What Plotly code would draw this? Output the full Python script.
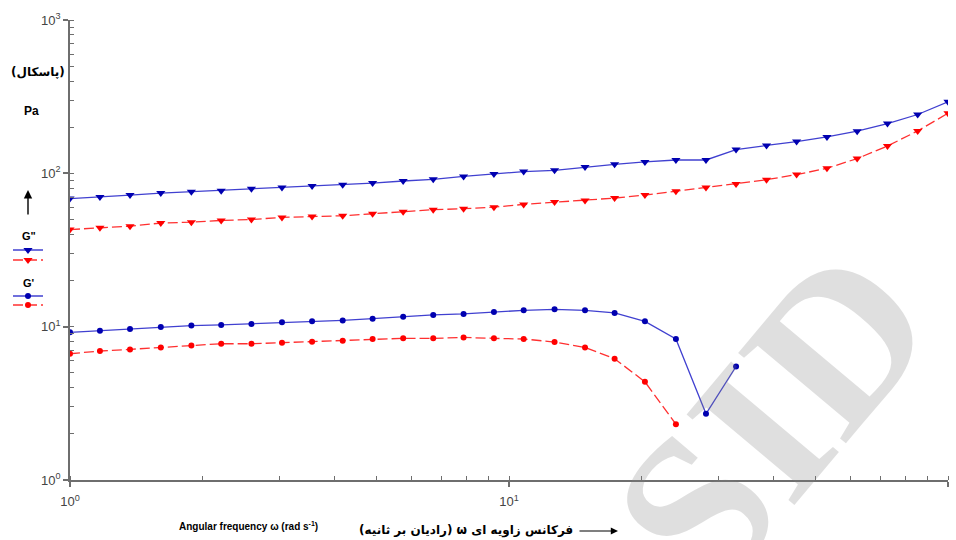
import plotly.graph_objects as go

# ---- data ----
omega = [1.0, 1.17, 1.37, 1.61, 1.89, 2.21, 2.59, 3.04, 3.56, 4.18,
         4.89, 5.74, 6.72, 7.88, 9.24, 10.8, 12.7, 14.9, 17.4, 20.4,
         24.0, 28.1, 32.9, 38.6, 45.2, 53.0, 62.1, 72.8, 85.3, 100.0]

g2_blue = [68.4, 70.0, 72.1, 74.3, 75.9, 77.1, 79.4, 80.7, 82.6, 84.4,
           86.4, 89.1, 91.4, 95.5, 98.9, 102.6, 104.6, 110.0, 114.5, 118.6,
           122.2, 122.2, 142.8, 152.0, 161.0, 172.7, 188.2, 211.3, 241.9, 292.5]

g2_red = [43.0, 44.2, 45.2, 47.4, 48.0, 49.3, 50.0, 51.6, 52.3, 52.9,
          54.5, 56.2, 57.9, 58.8, 60.2, 62.7, 64.9, 66.6, 69.0, 72.1,
          76.3, 80.7, 85.1, 90.9, 98.1, 107.9, 124.8, 150.8, 189.0, 246.6]

g1_blue = [9.18, 9.41, 9.66, 9.95, 10.16, 10.26, 10.42, 10.67, 10.83, 10.99,
           11.28, 11.62, 11.92, 12.11, 12.48, 12.78, 12.98, 12.78, 12.29, 10.83,
           8.31, 2.70, 5.50]

g1_red = [6.66, 6.94, 7.11, 7.32, 7.55, 7.74, 7.74, 7.86, 7.98, 8.10,
          8.31, 8.39, 8.39, 8.51, 8.39, 8.31, 7.94, 7.32, 6.18, 4.37,
          2.31]

x_tickvals = [1, 10, 100]
x_ticktext = ["10<sup>0</sup>", "10<sup>1</sup>", "10<sup>2</sup>"]
y_tickvals = [1, 10, 100, 1000]
y_ticktext = ["10<sup>0</sup>", "10<sup>1</sup>", "10<sup>2</sup>", "10<sup>3</sup>"]

# ---- styles ----
BLUE_M = "#0000b0"
BLUE_L = "#4040d0"
RED_M = "#ff0000"
RED_L = "#ff3030"
AX = "#6e6e6e"

L_MARGIN, R_MARGIN, T_MARGIN, B_MARGIN = 70, 8, 20, 60
PW = 956 - L_MARGIN - R_MARGIN
PH = 540 - T_MARGIN - B_MARGIN


def px_x(px):
    return (px - L_MARGIN) / PW


def px_y(py):
    return (540 - B_MARGIN - py) / PH


fig = go.Figure()

fig.add_trace(go.Scatter(
    x=omega[:len(g2_blue)], y=g2_blue, mode="lines+markers", name=" ",
    legend="legend",
    line=dict(color=BLUE_L, width=1.3),
    marker=dict(symbol="triangle-down", size=8, color=BLUE_M)))
fig.add_trace(go.Scatter(
    x=omega[:len(g2_red)], y=g2_red, mode="lines+markers", name=" ",
    legend="legend2",
    line=dict(color=RED_L, width=1.3, dash="10px,4px"),
    marker=dict(symbol="triangle-down", size=8, color=RED_M)))
fig.add_trace(go.Scatter(
    x=omega[:len(g1_blue)], y=g1_blue, mode="lines+markers", name=" ",
    legend="legend3",
    line=dict(color=BLUE_L, width=1.3),
    marker=dict(symbol="circle", size=6, color=BLUE_M)))
fig.add_trace(go.Scatter(
    x=omega[:len(g1_red)], y=g1_red, mode="lines+markers", name=" ",
    legend="legend4",
    line=dict(color=RED_L, width=1.3, dash="10px,4px"),
    marker=dict(symbol="circle", size=6, color=RED_M)))

tickfont = dict(family="Liberation Sans, Arial, sans-serif", size=13, color="#444")


def leg(py):
    return dict(x=px_x(8), y=px_y(py), xanchor="left", yanchor="middle",
                bgcolor="rgba(0,0,0,0)", borderwidth=0, itemwidth=30,
                font=dict(size=8))


fig.update_layout(
    width=956, height=540,
    margin=dict(l=L_MARGIN, r=R_MARGIN, t=T_MARGIN, b=B_MARGIN, autoexpand=False),
    paper_bgcolor="white", plot_bgcolor="white",
    showlegend=True,
    legend=leg(250), legend2=leg(260), legend3=leg(296), legend4=leg(305),
    xaxis=dict(type="log", range=[0, 2], showline=True, linecolor=AX, linewidth=1.5,
               ticks="outside", ticklen=5, tickwidth=1.5, tickcolor=AX,
               tickvals=x_tickvals, ticktext=x_ticktext, tickfont=tickfont,
               ticklabelstandoff=4,
               showgrid=False, zeroline=False,
               minor=dict(ticks="inside", ticklen=4, tickwidth=1, tickcolor=AX,
                          dtick="D1", showgrid=False)),
    yaxis=dict(type="log", range=[0, 3], showline=True, linecolor=AX, linewidth=1.5,
               ticks="outside", ticklen=5, tickwidth=1.5, tickcolor=AX,
               tickvals=y_tickvals, ticktext=y_ticktext, tickfont=tickfont,
               showgrid=False, zeroline=False,
               minor=dict(ticks="inside", ticklen=4, tickwidth=1, tickcolor=AX,
                          dtick="D1", showgrid=False)),
    xaxis2=dict(type="log", range=[0, 2], overlaying="x", anchor="y", side="bottom",
                ticks="inside", ticklen=5, tickwidth=1.5, tickcolor=AX,
                tickvals=x_tickvals, showticklabels=False, showline=False,
                showgrid=False, zeroline=False),
    yaxis2=dict(type="log", range=[0, 3], overlaying="y", anchor="x", side="left",
                ticks="inside", ticklen=5, tickwidth=1.5, tickcolor=AX,
                tickvals=y_tickvals, showticklabels=False, showline=False,
                showgrid=False, zeroline=False),
)

fa = "DejaVu Sans, sans-serif"
RLE, PDF = "\u202B", "\u202C"
common = dict(xref="paper", yref="paper", xanchor="center", yanchor="middle")
annotations = [
    dict(text="<b>" + RLE + "(پاسکال)" + PDF + "</b>", x=px_x(38), y=px_y(72),
         showarrow=False, font=dict(family=fa, size=12, color="black"), **common),
    dict(text="<b>Pa</b>", x=px_x(31), y=px_y(111),
         showarrow=False, font=dict(family="Liberation Sans, Arial", size=12, color="black"),
         **common),
    dict(text="", x=px_x(28), y=px_y(190), xref="paper", yref="paper",
         showarrow=True, ax=0, ay=26, arrowhead=2, arrowsize=1.2, arrowwidth=1.4,
         arrowcolor="black"),
    dict(text='<b>G"</b>', x=px_x(29), y=px_y(236), showarrow=False,
         font=dict(family="Liberation Sans, Arial", size=11, color="black"), **common),
    dict(text="<b>G'</b>", x=px_x(29), y=px_y(283), showarrow=False,
         font=dict(family="Liberation Sans, Arial", size=11, color="black"), **common),
    dict(text="<b>Angular frequency ω (rad s<sup>-1</sup>)</b>", x=px_x(248), y=px_y(526),
         showarrow=False,
         font=dict(family="Liberation Sans Narrow, Liberation Sans, Arial", size=10,
                   color="black"), **common),
    dict(text="<b>" + RLE + "فرکانس زاویه ای ω (رادیان بر ثانیه)" + PDF + "</b>",
         x=px_x(466), y=px_y(530), showarrow=False,
         font=dict(family=fa, size=12, color="black"), **common),
    dict(text="", x=px_x(618), y=px_y(531), xref="paper", yref="paper",
         showarrow=True, ax=-40, ay=0, arrowhead=2, arrowsize=1.2, arrowwidth=1.2,
         arrowcolor="black"),
    dict(text="<b>SID</b>", x=px_x(772), y=px_y(418), showarrow=False, textangle=-50,
         font=dict(family="Liberation Serif, Times New Roman, serif", size=215,
                   color="rgba(128,128,128,0.25)"), **common),
]
fig.update_layout(annotations=annotations)

fig.write_html("out.html", config={"displayModeBar": False},
               post_script="document.body.style.margin='0';")
